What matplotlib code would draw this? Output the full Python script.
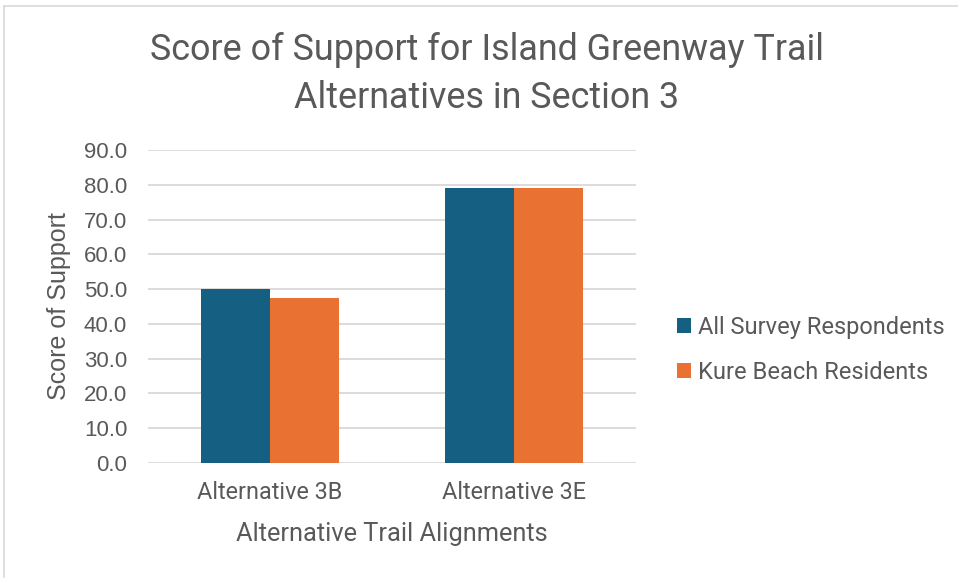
import matplotlib
matplotlib.use("Agg")
import matplotlib.pyplot as plt
from matplotlib.lines import Line2D
import numpy as np

categories = ["Alternative 3B", "Alternative 3E"]
series_names = ["All Survey Respondents", "Kure Beach Residents"]
all_respondents = [50.0, 79.2]
kure_residents = [47.4, 79.2]
y_ticks = [0, 10, 20, 30, 40, 50, 60, 70, 80, 90]

plt.rcParams['font.family'] = ['Roboto', 'DejaVu Sans']
txt = '#595959'
colors = ['#156082', '#E97132']

fig = plt.figure(figsize=(9.58, 5.78), dpi=100)
ax = fig.add_axes([148/958, 1-463/578, (636-148)/958, (463-150)/578])

x = np.arange(len(categories))
w = 0.283
ax.bar(x - w/2, all_respondents, w, color=colors[0], label=series_names[0], zorder=3)
ax.bar(x + w/2, kure_residents, w, color=colors[1], label=series_names[1], zorder=3)

ax.set_xlim(-0.5, 1.5)
ax.set_ylim(0, 90)
ax.set_yticks(y_ticks)
ax.set_yticklabels([f"{v:.1f}" for v in y_ticks], family=['Liberation Sans', 'DejaVu Sans'])
ax.set_xticks(x)
ax.set_xticklabels(categories)
ax.grid(axis='y', color='#D9D9D9', linewidth=1.3, zorder=0)
for s in ax.spines.values():
    s.set_visible(False)
ax.tick_params(axis='both', length=0, colors=txt)
ax.tick_params(axis='y', pad=15, labelsize=16)
ax.tick_params(axis='x', pad=13, labelsize=16.8)

ax.set_xlabel("Alternative Trail Alignments", fontsize=18.3, color=txt, labelpad=13)
ax.set_ylabel("Score of Support", fontsize=18, color=txt, labelpad=9,
              family=['Liberation Sans', 'DejaVu Sans'])

fig.text(487/958, 1-74/578, "Score of Support for Island Greenway Trail\nAlternatives in Section 3",
         ha='center', va='center', fontsize=25.8, color=txt, linespacing=1.42)

leg = fig.legend(loc='center left', bbox_to_anchor=(656/958, 1-350/578), frameon=False,
                 fontsize=17, handlelength=0.6, handleheight=0.6, handletextpad=0.3,
                 labelspacing=0.95)
for t in leg.get_texts():
    t.set_color(txt)

fig.add_artist(Line2D([4/958, 1], [1-5.5/578, 1-5.5/578], color='#D9D9D9', lw=1.2, transform=fig.transFigure))
fig.add_artist(Line2D([4/958, 4/958], [0, 1-5.5/578], color='#D9D9D9', lw=1.2, transform=fig.transFigure))

fig.savefig("out.png", dpi=100, facecolor='white')
